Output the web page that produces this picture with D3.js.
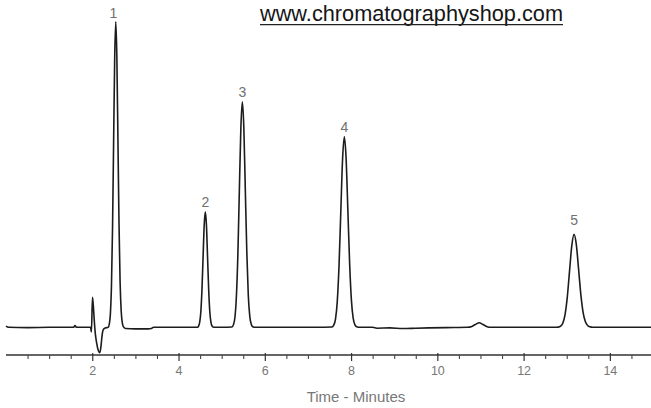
<!DOCTYPE html>
<html>
<head>
<meta charset="utf-8">
<script src="https://cdn.jsdelivr.net/npm/d3@7"></script>
<style>
  html, body { margin: 0; padding: 0; background: #fff; }
  svg { display: block; }
</style>
</head>
<body>
<svg id="chart" width="651" height="408"></svg>
<script>
// ---- Data ----
const traceTime = [
  0.00, 0.06, 0.5, 1.0, 1.5, 1.57, 1.6, 1.63, 1.96, 1.98, 2.005, 2.025, 2.045, 2.07, 2.10, 2.14, 2.175, 2.20, 2.225, 2.255, 2.30,
  2.37, 2.395, 2.42, 2.445, 2.47, 2.495, 2.52, 2.545, 2.57, 2.595, 2.62, 2.645, 2.67, 2.695, 2.72, 2.77,
  3.0, 3.3, 3.37, 3.42, 4.0,
  4.44, 4.465, 4.491, 4.517, 4.543, 4.569, 4.595, 4.621, 4.647, 4.673, 4.699, 4.725, 4.751, 4.777, 4.82,
  5.0, 5.238, 5.272, 5.307, 5.341, 5.376, 5.41, 5.445, 5.479, 5.514, 5.548, 5.583, 5.617, 5.652, 5.686, 5.72, 5.78,
  6.5, 7.2, 7.557, 7.598, 7.639, 7.68, 7.721, 7.762, 7.803, 7.844, 7.885, 7.926, 7.967, 8.008, 8.049, 8.09, 8.131, 8.2,
  8.5, 8.6, 8.9, 9.2, 9.5, 9.8, 10.2, 10.7, 10.8, 10.88, 10.97, 11.06, 11.14, 11.25,
  12.0, 12.74, 12.803, 12.855, 12.908, 12.96, 13.013, 13.065, 13.118, 13.17, 13.223, 13.275, 13.328, 13.38, 13.433, 13.485, 13.538, 13.6,
  14.2, 15.0
];
const traceSignal = [
  0.4, 0.0, -0.1, 0.0, 0.0, 0.0, 0.6, 0.0, 0.0, -1.5, 9.8, 7.0, 2.5, -2.0, -5.0, -7.6, -8.3, -6.5, -3.0, -0.8, -0.2,
  0.0, 1.1, 4.4, 13.5, 32.5, 60.7, 88.3, 100, 88.5, 61.5, 34.0, 15.0, 5.5, 1.6, 0.2, -0.4,
  -0.5, -0.5, -0.4, 0.0, 0.0,
  0.0, 0.4, 1.7, 5.1, 12.3, 22.9, 33.4, 37.8, 33.4, 22.9, 12.3, 5.1, 1.7, 0.4, 0.0,
  0.0, 0.1, 0.8, 3.2, 10.0, 24.0, 44.8, 65.1, 73.8, 65.3, 45.2, 24.6, 10.6, 3.6, 1.0, 0.2, 0.0,
  0.0, 0.0, 0.1, 0.7, 2.7, 8.4, 20.2, 37.8, 55.0, 62.3, 55.2, 38.2, 20.8, 8.9, 3.0, 0.8, 0.2, 0.0,
  0.0, -0.3, -0.2, -0.4, -0.3, -0.2, -0.1, 0.0, 0.3, 0.9, 1.5, 0.9, 0.3, 0.0,
  0.0, 0.0, 0.07, 0.34, 1.33, 4.1, 9.9, 18.4, 26.8, 30.4, 27.0, 19.0, 10.6, 4.8, 1.8, 0.6, 0.15, 0.0,
  0.0, 0.0
];
const peakLabels  = ["1", "2", "3", "4", "5"];
const peakTimes   = [2.545, 4.621, 5.479, 7.844, 13.17];
const peakHeights = [100, 37.8, 73.8, 62.3, 30.4];
const majorTicks  = [2, 4, 6, 8, 10, 12, 14];
const minorTicks  = [0.5, 1, 1.5, 2.5, 3, 3.5, 4.5, 5, 5.5, 6.5, 7, 7.5, 8.5, 9, 9.5, 10.5, 11, 11.5, 12.5, 13, 13.5, 14.5];
const titleText   = "www.chromatographyshop.com";
const axisTitle   = "Time - Minutes";

// ---- Drawing ----
const svg = d3.select("#chart");
const FONT = "'Liberation Sans', Arial, Helvetica, sans-serif";

const x = d3.scaleLinear().domain([0, 15]).range([6, 653]);
const y = d3.scaleLinear().domain([0, 100]).range([327.3, 21.7]);
const axisY = 355;

const trace = traceTime.map((t, i) => [t, traceSignal[i]]);

// title (underlined)
svg.append("text")
  .attr("x", 260).attr("y", 21)
  .attr("font-family", FONT).attr("font-size", 22)
  .attr("textLength", 303).attr("lengthAdjust", "spacingAndGlyphs")
  .attr("fill", "#151515")
  .text(titleText);
svg.append("line")
  .attr("x1", 260).attr("x2", 563).attr("y1", 24.6).attr("y2", 24.6)
  .attr("stroke", "#222").attr("stroke-width", 1.3);

// trace
svg.append("path")
  .datum(trace)
  .attr("fill", "none")
  .attr("stroke", "#1c1c1c")
  .attr("stroke-width", 1.6)
  .attr("stroke-linejoin", "round")
  .attr("d", d3.line().x(d => x(d[0])).y(d => y(d[1])).curve(d3.curveMonotoneX));

// peak labels
svg.append("g").selectAll("text")
  .data(peakLabels)
  .join("text")
  .attr("x", (d, i) => x(peakTimes[i]) - (i === 0 ? 2.5 : 0))
  .attr("y", (d, i) => y(peakHeights[i]) - (i === 0 ? 3.5 : i === 4 ? 9 : 5))
  .attr("text-anchor", "middle")
  .attr("font-family", FONT).attr("font-size", 14)
  .attr("fill", "#707070")
  .text(d => d);

// axis
const gAxis = svg.append("g").attr("transform", `translate(0,${axisY})`);
gAxis.append("line")
  .attr("x1", x(0)).attr("x2", 651).attr("y1", 0).attr("y2", 0)
  .attr("stroke", "#333").attr("stroke-width", 1.3);

const minorAxis = d3.axisBottom(x).tickValues(minorTicks).tickSize(4).tickFormat("");
const gMinor = gAxis.append("g").call(minorAxis);
gMinor.select(".domain").remove();
gMinor.selectAll(".tick line").attr("stroke", "#444").attr("stroke-width", 1.1);

const majorAxis = d3.axisBottom(x).tickValues(majorTicks).tickSize(6).tickPadding(5).tickFormat(d3.format("d"));
const gMajor = gAxis.append("g").call(majorAxis);
gMajor.select(".domain").remove();
gMajor.selectAll(".tick line").attr("y1", -2).attr("stroke", "#333").attr("stroke-width", 1.2);
gMajor.selectAll(".tick text")
  .attr("font-family", FONT).attr("font-size", 12.5).attr("fill", "#777");

// axis title
svg.append("text")
  .attr("x", 356).attr("y", 401.5)
  .attr("text-anchor", "middle")
  .attr("font-family", FONT).attr("font-size", 15)
  .attr("fill", "#777")
  .text(axisTitle);
</script>
</body>
</html>
